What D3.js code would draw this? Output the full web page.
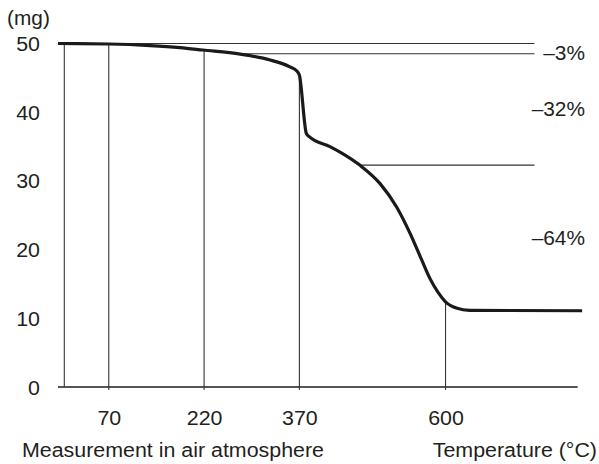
<!DOCTYPE html>
<html>
<head>
<meta charset="utf-8">
<script src="https://cdn.jsdelivr.net/npm/d3@7"></script>
<style>
  html, body { margin: 0; padding: 0; background: #fff; }
  svg { display: block; }
  text { font-family: "Liberation Sans", Arial, Helvetica, sans-serif; fill: #231f20; }
</style>
</head>
<body>
<svg id="chart" width="599" height="464"></svg>
<script>
// Thermogravimetric curve: sample mass (mg) against temperature (°C)
const tempC  = [-10, 70, 135, 182, 218, 277, 324, 355, 366, 370, 381, 386, 418, 434, 465, 497, 523, 544, 562, 576, 588, 600, 617, 638, 815];
const massMg = [50.0, 49.93, 49.7, 49.4, 49.05, 48.45, 47.6, 46.6, 46.0, 45.4, 36.9, 36.4, 35.0, 34.2, 32.3, 29.6, 26.2, 22.4, 18.6, 15.7, 13.8, 12.4, 11.5, 11.15, 11.1];

// Labelled temperatures on the x axis, plus the unlabelled start line
const xTickValues = [70, 220, 370, 600];
const dropTemps   = [0, 70, 220, 370, 600];

// Mass axis
const yTickValues = [0, 10, 20, 30, 40, 50];

// Step levels (mg) and the loss of each step
const stepLevels = [50, 48.5, 32.3];
const stepLabels = ["–3%", "–32%", "–64%"];
const stepLabelMg = [48.6, 40.4, 21.6];

const svg = d3.select("#chart");
const stretch = "scale(1.07,1)";

const x = d3.scaleLinear().domain([0, 800]).range([64.3, 572.6]);
const y = d3.scaleLinear().domain([0, 50]).range([387, 43.5]);

// mass at a given temperature
const massAt = d3.scaleLinear().domain(tempC).range(massMg).clamp(true);

// baseline
svg.append("line")
  .attr("x1", x(-10)).attr("x2", x(808))
  .attr("y1", y(0)).attr("y2", y(0))
  .attr("stroke", "#555").attr("stroke-width", 1.8);

// step reference lines, each starting where the curve reaches that level
const lineEndT = 740;
stepLevels.forEach(level => {
  let t0 = tempC[0];
  for (let i = 0; i < tempC.length; i++) {
    if (massMg[i] <= level) {
      if (i > 0) {
        const f = (massMg[i - 1] - level) / (massMg[i - 1] - massMg[i]);
        t0 = tempC[i - 1] + f * (tempC[i] - tempC[i - 1]);
      }
      break;
    }
  }
  svg.append("line")
    .attr("x1", x(t0)).attr("x2", x(lineEndT))
    .attr("y1", y(level)).attr("y2", y(level))
    .attr("stroke", "#333").attr("stroke-width", 1.1);
});

// vertical drop lines from the curve down to the axis
svg.append("g").selectAll("line")
  .data(dropTemps)
  .join("line")
  .attr("x1", d => x(d)).attr("x2", d => x(d))
  .attr("y1", d => y(massAt(d)))
  .attr("y2", d => y(0) + (d === 0 ? 0 : 3))
  .attr("stroke", "#333").attr("stroke-width", 1.1);

// x axis labels
const xAxis = svg.append("g")
  .attr("transform", `translate(0,${y(0)})`)
  .call(d3.axisBottom(x).tickValues(xTickValues).tickSize(0).tickPadding(24).tickFormat(d3.format("d")));
xAxis.select(".domain").remove();
xAxis.selectAll("text")
  .attr("font-size", 20).attr("dy", "0.71em")
  .attr("transform", stretch)
  .style("font-family", "Liberation Sans, Arial, sans-serif")
  .attr("fill", "#231f20");

// y axis labels
const yAxis = svg.append("g")
  .attr("transform", "translate(40,0)")
  .call(d3.axisLeft(y).tickValues(yTickValues).tickSize(0).tickPadding(0));
yAxis.select(".domain").remove();
yAxis.selectAll("text")
  .attr("font-size", 20).attr("dy", "0.35em")
  .attr("transform", stretch)
  .style("font-family", "Liberation Sans, Arial, sans-serif")
  .attr("fill", "#231f20");

// mass curve
svg.append("path")
  .datum(tempC.map((t, i) => [t, massMg[i]]))
  .attr("fill", "none")
  .attr("stroke", "#1a1a1a")
  .attr("stroke-width", 3.2)
  .attr("stroke-linejoin", "round")
  .attr("d", d3.line().x(d => x(d[0])).y(d => y(d[1])).curve(d3.curveMonotoneX));

// step loss labels
svg.append("g").selectAll("text")
  .data(stepLabels)
  .join("text")
  .attr("transform", (d, i) => `translate(585,${y(stepLabelMg[i])}) ${stretch}`)
  .attr("text-anchor", "end")
  .attr("dy", "0.35em")
  .attr("font-size", 19.5)
  .text(d => d);

// axis titles
svg.append("text")
  .attr("transform", `translate(7,25) ${stretch}`)
  .attr("font-size", 19.5)
  .text("(mg)");

svg.append("text")
  .attr("transform", `translate(22,457) ${stretch}`)
  .attr("font-size", 20)
  .text("Measurement in air atmosphere");

svg.append("text")
  .attr("transform", `translate(597,457) ${stretch}`)
  .attr("text-anchor", "end")
  .attr("font-size", 20)
  .text("Temperature (°C)");
</script>
</body>
</html>
